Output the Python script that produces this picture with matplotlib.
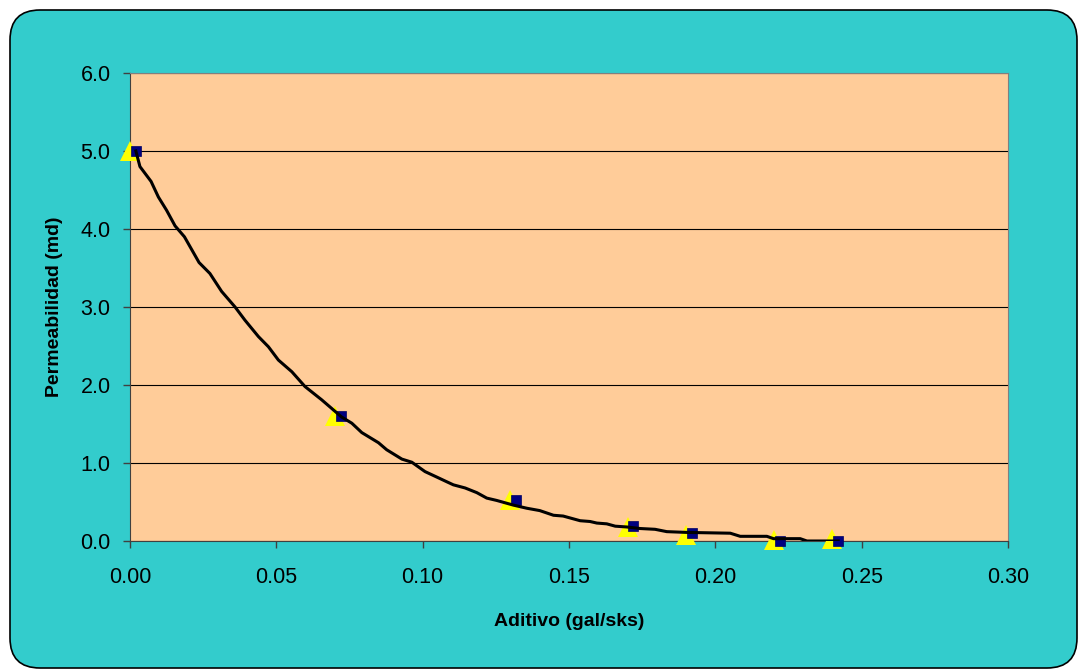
import numpy as np
import matplotlib.pyplot as plt
from matplotlib.patches import FancyBboxPatch

plt.rcParams['font.family'] = ['Liberation Sans', 'DejaVu Sans']

# measured points (two series)
x_tri = [0.000, 0.070, 0.130, 0.170, 0.190, 0.220, 0.240]
y_tri = [5.00, 1.60, 0.52, 0.18, 0.08, 0.01, 0.03]
x_sq = [0.002, 0.072, 0.132, 0.172, 0.192, 0.222, 0.242]
y_sq = [5.00, 1.60, 0.53, 0.19, 0.10, 0.00, 0.00]

# fitted curve read along its length
x_fit = [0.002, 0.0034, 0.0072, 0.0097, 0.0125, 0.0154, 0.0186, 0.0236, 0.0273,
         0.0313, 0.0359, 0.0393, 0.0439, 0.0473, 0.0507, 0.0553, 0.0598, 0.0655,
         0.0689, 0.0723, 0.0758, 0.0792, 0.0849, 0.0877, 0.0929, 0.0963, 0.1008,
         0.1048, 0.1082, 0.1105, 0.1145, 0.1185, 0.1219, 0.1253, 0.1310, 0.1356,
         0.1400, 0.1447, 0.1480, 0.1538, 0.1572, 0.1595, 0.1629, 0.1658, 0.1697,
         0.1743, 0.1794, 0.1834, 0.1903, 0.2051, 0.2085, 0.2176, 0.2199, 0.2290,
         0.2313, 0.2420]
y_fit = [5.00, 4.80, 4.61, 4.41, 4.24, 4.04, 3.90, 3.57, 3.43,
         3.20, 3.00, 2.83, 2.62, 2.49, 2.32, 2.17, 1.98, 1.81,
         1.70, 1.59, 1.51, 1.39, 1.26, 1.17, 1.05, 1.01, 0.89,
         0.82, 0.76, 0.72, 0.68, 0.62, 0.55, 0.52, 0.46, 0.42,
         0.39, 0.33, 0.32, 0.26, 0.25, 0.23, 0.22, 0.19, 0.18,
         0.16, 0.15, 0.12, 0.11, 0.10, 0.06, 0.06, 0.03, 0.03,
         0.00, 0.00]

xticks = [0.00, 0.05, 0.10, 0.15, 0.20, 0.25, 0.30]
yticks = [0.0, 1.0, 2.0, 3.0, 4.0, 5.0, 6.0]

fig = plt.figure(figsize=(10.78, 6.69), dpi=100)
fig.patch.set_facecolor('white')

# rounded teal frame around the whole chart
frame = FancyBboxPatch((0.10, 0.01), 10.67, 6.58,
                       boxstyle='round,pad=0,rounding_size=0.3',
                       transform=fig.dpi_scale_trans,
                       facecolor='#33CCCC', edgecolor='black', linewidth=1.2,
                       zorder=-1)
fig.add_artist(frame)

ax = fig.add_axes([130 / 1078, 1 - 541 / 669, 878 / 1078, 468 / 669])
ax.set_facecolor('#FFCC99')

ax.plot(x_tri, y_tri, linestyle='none', marker='^', markersize=14,
        color='#FFFF00', markeredgewidth=0, clip_on=False, zorder=3)
ax.plot(x_sq, y_sq, linestyle='none', marker='s', markersize=7,
        color='#000080', markeredgecolor='#000060', markeredgewidth=0.5,
        clip_on=False, zorder=4)
ax.plot(x_fit, y_fit, color='black', linewidth=2.2, zorder=5,
        solid_joinstyle='round')

ax.set_xlim(0, 0.30)
ax.set_ylim(0, 6.0)
ax.set_xticks(xticks)
ax.set_yticks(yticks)
ax.set_xticklabels(['%.2f' % v for v in xticks])
ax.set_yticklabels(['%.1f' % v for v in yticks])
ax.tick_params(axis='both', labelsize=15.5, colors='#404040', labelcolor='black',
               length=5, width=1, direction='out')
ax.tick_params(axis='x', pad=14)
ax.tick_params(axis='y', pad=9)
ax.grid(axis='y', color='black', linewidth=0.8)
ax.set_axisbelow(True)
for side in ['top', 'right']:
    ax.spines[side].set_color('#808080')
for side in ['left', 'bottom']:
    ax.spines[side].set_color('#404040')

ax.set_xlabel('Aditivo (gal/sks)', fontsize=14, fontweight='bold')
ax.set_ylabel('Permeabilidad (md)', fontsize=14, fontweight='bold')
ax.xaxis.set_label_coords(0.5, -(622 - 541) / 468, transform=ax.transAxes)
ax.yaxis.set_label_coords(-(130 - 55) / 878, 0.5, transform=ax.transAxes)
ax.xaxis.label.set_va('center')
ax.yaxis.label.set_va('center')

fig.savefig('out.png', dpi=100)
